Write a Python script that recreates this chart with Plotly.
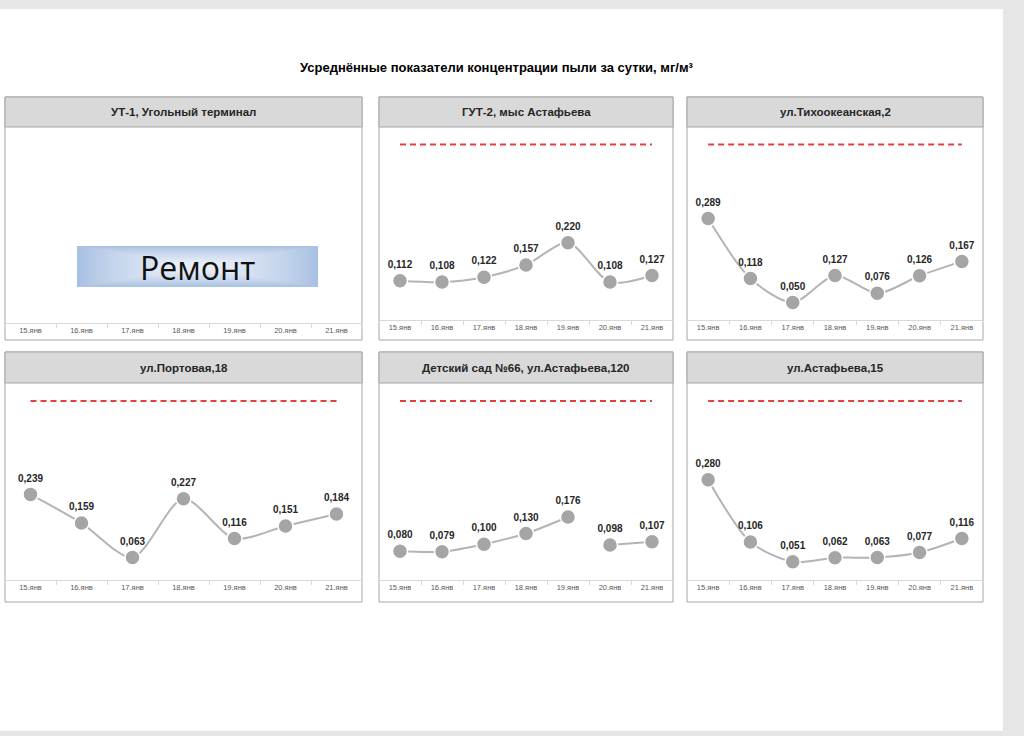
import plotly.graph_objects as go

W, H = 1024, 736

# ---------------- data ----------------
title = "Усреднённые показатели концентрации пыли за сутки, мг/м³"
dates = ["15.янв", "16.янв", "17.янв", "18.янв", "19.янв", "20.янв", "21.янв"]
pdk = 0.5  # red dashed limit line

station_names = [
    "УТ-1, Угольный терминал",
    "ГУТ-2, мыс Астафьева",
    "ул.Тихоокеанская,2",
    "ул.Портовая,18",
    "Детский сад №66, ул.Астафьева,120",
    "ул.Астафьева,15",
]
ut1 = [None, None, None, None, None, None, None]          # under repair
gut2 = [0.112, 0.108, 0.122, 0.157, 0.220, 0.108, 0.127]
tikhookeanskaya = [0.289, 0.118, 0.050, 0.127, 0.076, 0.126, 0.167]
portovaya = [0.239, 0.159, 0.063, 0.227, 0.116, 0.151, 0.184]
detsad66 = [0.080, 0.079, 0.100, 0.130, 0.176, 0.098, 0.107]
astafyeva15 = [0.280, 0.106, 0.051, 0.062, 0.063, 0.077, 0.116]
repair_text = "Ремонт"

series = [ut1, gut2, tikhookeanskaya, portovaya, detsad66, astafyeva15]
line_breaks = {4: [4]}  # line not drawn after this point index

# ---------------- layout geometry (pixels) ----------------
# x0, x1, top, header_bottom, baseline, bottom
panels = [
    (5, 362, 97, 127, 323, 340),
    (379, 673, 97, 127, 320, 340),
    (687, 983, 97, 127, 320, 340),
    (5, 362, 352, 383, 580, 602),
    (379, 673, 352, 383, 580, 602),
    (687, 983, 352, 383, 580, 602),
]

def fx(x):
    return x / W

def fy(y):
    return 1 - y / H

FONT = "Arial, 'Liberation Sans', sans-serif"
GRAY = "#a6a6a6"

fig = go.Figure()
shapes = []
annotations = []

# page card
shapes.append(dict(type="rect", xref="paper", yref="paper", x0=fx(0), x1=fx(1003),
                   y0=fy(731), y1=fy(9), fillcolor="white", line=dict(width=0), layer="below"))

layout_axes = {}
for i, (x0, x1, top, hb, base, bot) in enumerate(panels):
    n = i + 1
    xa = "x" if n == 1 else f"x{n}"
    ya = "y" if n == 1 else f"y{n}"
    xkey = "xaxis" if n == 1 else f"xaxis{n}"
    ykey = "yaxis" if n == 1 else f"yaxis{n}"

    # panel frame
    shapes.append(dict(type="rect", xref="paper", yref="paper", x0=fx(x0), x1=fx(x1),
                       y0=fy(bot), y1=fy(top), fillcolor="white",
                       line=dict(color=GRAY, width=1), layer="below"))
    # header
    shapes.append(dict(type="rect", xref="paper", yref="paper", x0=fx(x0), x1=fx(x1),
                       y0=fy(hb), y1=fy(top), fillcolor="#d9d9d9",
                       line=dict(color=GRAY, width=1), layer="above"))
    annotations.append(dict(xref="paper", yref="paper", x=fx((x0 + x1) / 2), y=fy((top + hb) / 2),
                            text=f"<b>{station_names[i]}</b>", showarrow=False,
                            font=dict(family=FONT, size=11.5, color="#262626"),
                            xanchor="center", yanchor="middle"))

    layout_axes[xkey] = dict(domain=[fx(x0), fx(x1)], anchor=ya, type="category",
                             categoryorder="array", categoryarray=dates,
                             range=[-0.5, len(dates) - 0.5],
                             showline=True, linecolor="#d9d9d9", linewidth=1,
                             ticks="outside", tickson="boundaries", ticklen=4,
                             tickcolor="#d9d9d9", showgrid=False, zeroline=False,
                             tickfont=dict(family=FONT, size=7.5, color="#595959"),
                             fixedrange=True)
    layout_axes[ykey] = dict(domain=[fy(base), fy(hb)], anchor=xa, range=[0, 0.55],
                             visible=False, showgrid=False, zeroline=False, fixedrange=True)

    vals = series[i]
    if all(v is None for v in vals):
        # no measurements: keep the category axis
        fig.add_trace(go.Scatter(x=dates, y=vals, mode="lines", xaxis=xa, yaxis=ya,
                                 showlegend=False, hoverinfo="skip"))
        continue

    # limit line
    fig.add_trace(go.Scatter(x=dates, y=[pdk] * len(dates), mode="lines", xaxis=xa, yaxis=ya,
                             line=dict(color="#e2403f", width=2, dash="6px,4px"),
                             showlegend=False, hoverinfo="skip"))
    # smoothed line segments
    cuts = [-1] + line_breaks.get(i, []) + [len(vals) - 1]
    for a, b in zip(cuts[:-1], cuts[1:]):
        fig.add_trace(go.Scatter(x=dates[a + 1:b + 1], y=vals[a + 1:b + 1], mode="lines",
                                 xaxis=xa, yaxis=ya,
                                 line=dict(color="#b4b4b4", width=2, shape="spline", smoothing=0.8),
                                 showlegend=False, hoverinfo="skip"))
    # markers + labels
    fig.add_trace(go.Scatter(x=dates, y=vals, mode="markers+text", xaxis=xa, yaxis=ya,
                             marker=dict(size=15, color="#a5a5a5", line=dict(color="white", width=1.5)),
                             text=[f"<b>{v:.3f}</b>".replace(".", ",") for v in vals],
                             textposition="top center",
                             textfont=dict(family=FONT, size=10, color="#262626"),
                             showlegend=False, hoverinfo="skip"))

# "Ремонт" box on the first panel (gradient imitation)
bx0, bx1, by0, by1 = 77, 318, 246, 287
edge = (168, 192, 226)
center = (232, 238, 248)
steps = 32
for k in range(steps):
    t = (k / (steps - 1)) ** 0.8
    col = tuple(round(edge[j] + (center[j] - edge[j]) * t) for j in range(3))
    ix = k * 3.2
    iy = k * 0.55
    shapes.append(dict(type="rect", xref="paper", yref="paper",
                       x0=fx(bx0 + ix), x1=fx(bx1 - ix), y0=fy(by1 - iy), y1=fy(by0 + iy),
                       fillcolor=f"rgb{col}", line=dict(width=0), layer="above"))
annotations.append(dict(xref="paper", yref="paper", x=fx((bx0 + bx1) / 2), y=fy((by0 + by1) / 2 + 1),
                        text=repair_text, showarrow=False,
                        font=dict(family="'Open Sans', 'Noto Sans', sans-serif", size=32, color="#111111"),
                        xanchor="center", yanchor="middle"))

# main title
annotations.append(dict(xref="paper", yref="paper", x=fx(497), y=fy(67),
                        text=f"<b>{title}</b>", showarrow=False,
                        font=dict(family=FONT, size=13, color="#000000"),
                        xanchor="center", yanchor="middle"))

fig.update_layout(
    width=W, height=H, autosize=False,
    margin=dict(l=0, r=0, t=0, b=0),
    paper_bgcolor="#e6e6e6", plot_bgcolor="rgba(0,0,0,0)",
    shapes=shapes, annotations=annotations,
    showlegend=False,
    **layout_axes,
)

fig.write_html("out.html", config={"displayModeBar": False, "staticPlot": True},
               post_script="document.body.style.margin='0';document.body.style.overflow='hidden';")
